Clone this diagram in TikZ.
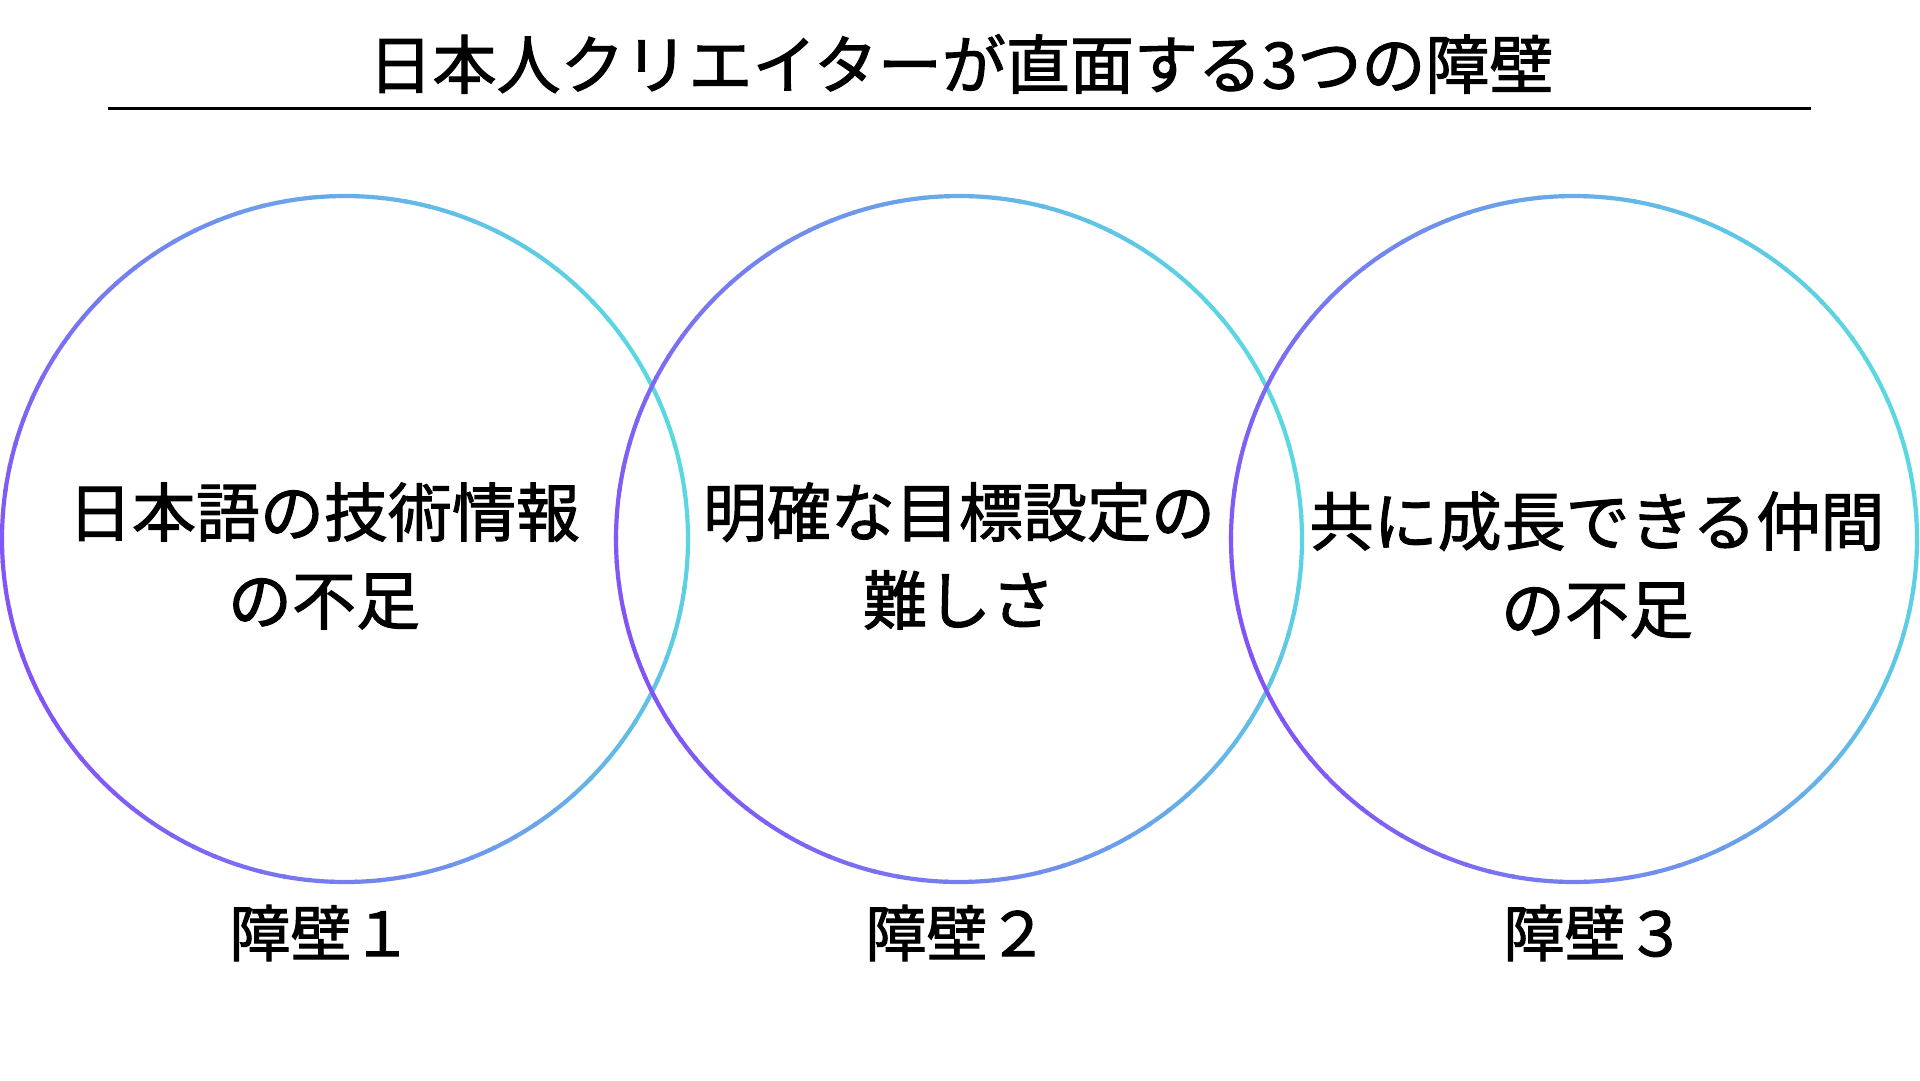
\documentclass[tikz,border=0pt]{standalone}
\usepackage{fontspec}
\setmainfont{Noto Sans CJK JP}[FakeBold=1.6]
\definecolor{cpurple}{RGB}{130,84,246}
\definecolor{ccyan}{RGB}{90,216,226}
\newcommand\gradring[3]{%
  \foreach \a in {0,4,...,356}{%
    \pgfmathsetmacro\tval{100*(cos(\a+2+20)+1)/2}%
    \draw[ring, color=ccyan!\tval!cpurple] (#1,#2) ++(\a:#3) arc[start angle=\a, end angle=\a+4.4, radius=#3];
  }}
\begin{document}
\begin{tikzpicture}[x=1pt,y=-1pt,
  ring/.style={line width=4.2pt, line cap=butt},
  ctext/.style={align=center, inner sep=0pt, font=\fontsize{64}{88}\selectfont},
  lab/.style={inner sep=0pt, font=\fontsize{61}{64}\selectfont},
  ttl/.style={inner sep=0pt, font=\fontsize{64}{70}\selectfont}]
\useasboundingbox[fill=white] (0,0) rectangle (1920,1080);
% title
\node[ttl] (title) at (961,64) {日本人クリエイターが直面する3つの障壁};
\coordinate (rl) at (108,108);
\coordinate (rr) at (1811,108);
\draw[line width=3pt] (rl) -- (rr);
% circles
\coordinate (c1) at (345,539);
\coordinate (c2) at (959,539);
\coordinate (c3) at (1574,539);
\gradring{345}{539}{343}
\gradring{959}{539}{343}
\gradring{1574}{539}{343}
% circle texts
\node[ctext] (t1) at (324,556) {日本語の技術情報\\の不足};
\node[ctext] (t2) at (959,556) {明確な目標設定の\\難しさ};
\node[ctext] (t3) at (1597,565) {共に成長できる仲間\\の不足};
% labels
\node[lab] (l1) at (321,933) {障壁１};
\node[lab] (l2) at (957,933) {障壁２};
\node[lab] (l3) at (1595,933) {障壁３};
\end{tikzpicture}
\end{document}
